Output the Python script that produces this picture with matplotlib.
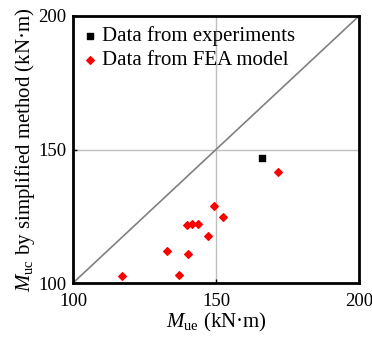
import matplotlib
matplotlib.use("Agg")
import matplotlib.pyplot as plt

plt.rcParams['font.family'] = ['Liberation Serif', 'DejaVu Serif']
plt.rcParams['mathtext.fontset'] = 'custom'
plt.rcParams['mathtext.rm'] = 'Liberation Serif'
plt.rcParams['mathtext.it'] = 'Liberation Serif:italic'

# Experimental result
exp_mue = [166.2]
exp_muc = [146.9]

# FEA model results
fea_mue = [117.2, 171.8, 149.3, 152.3, 139.7, 141.7, 143.8, 147.3, 132.8, 140.3, 137.2]
fea_muc = [102.6, 141.6, 128.9, 124.7, 121.7, 122.2, 122.2, 117.5, 112.1, 110.9, 103.1]

lims = [100, 200]
ticks = [100, 150, 200]

fig = plt.figure(figsize=(3.72, 3.42), dpi=100)
ax = fig.add_axes([73/372, 1 - 283/342, 286/372, 267/342])

ax.plot(lims, lims, color='#808080', lw=1.2, zorder=1)
ax.axvline(150, color='#bfbfbf', lw=1.0, zorder=0)
ax.axhline(150, color='#bfbfbf', lw=1.0, zorder=0)

ax.scatter(exp_mue, exp_muc, marker='s', s=20, color='black', zorder=3,
           label='Data from experiments')
ax.scatter(fea_mue, fea_muc, marker='D', s=15, color='#ff0000', zorder=3,
           label='Data from FEA model')

ax.set_xlim(lims)
ax.set_ylim(lims)
ax.set_xticks(ticks)
ax.set_yticks(ticks)
ax.tick_params(direction='in', length=3, labelsize=13.5, width=1)
ax.tick_params(axis='x', pad=7)
ax.tick_params(axis='y', pad=5)
for s in ax.spines.values():
    s.set_linewidth(2)

ax.set_xlabel(r'$M_{\rm ue}$ (kN·m)', fontsize=15, labelpad=1)
ax.set_ylabel(r'$M_{\rm uc}$ by simplified method (kN·m)', fontsize=15, labelpad=1)

ax.legend(loc='upper left', frameon=False, fontsize=15, handletextpad=0.3,
          borderaxespad=0.1, labelspacing=0.2, handlelength=0.6,
          scatterpoints=1)

fig.savefig('out.png', dpi=100)
